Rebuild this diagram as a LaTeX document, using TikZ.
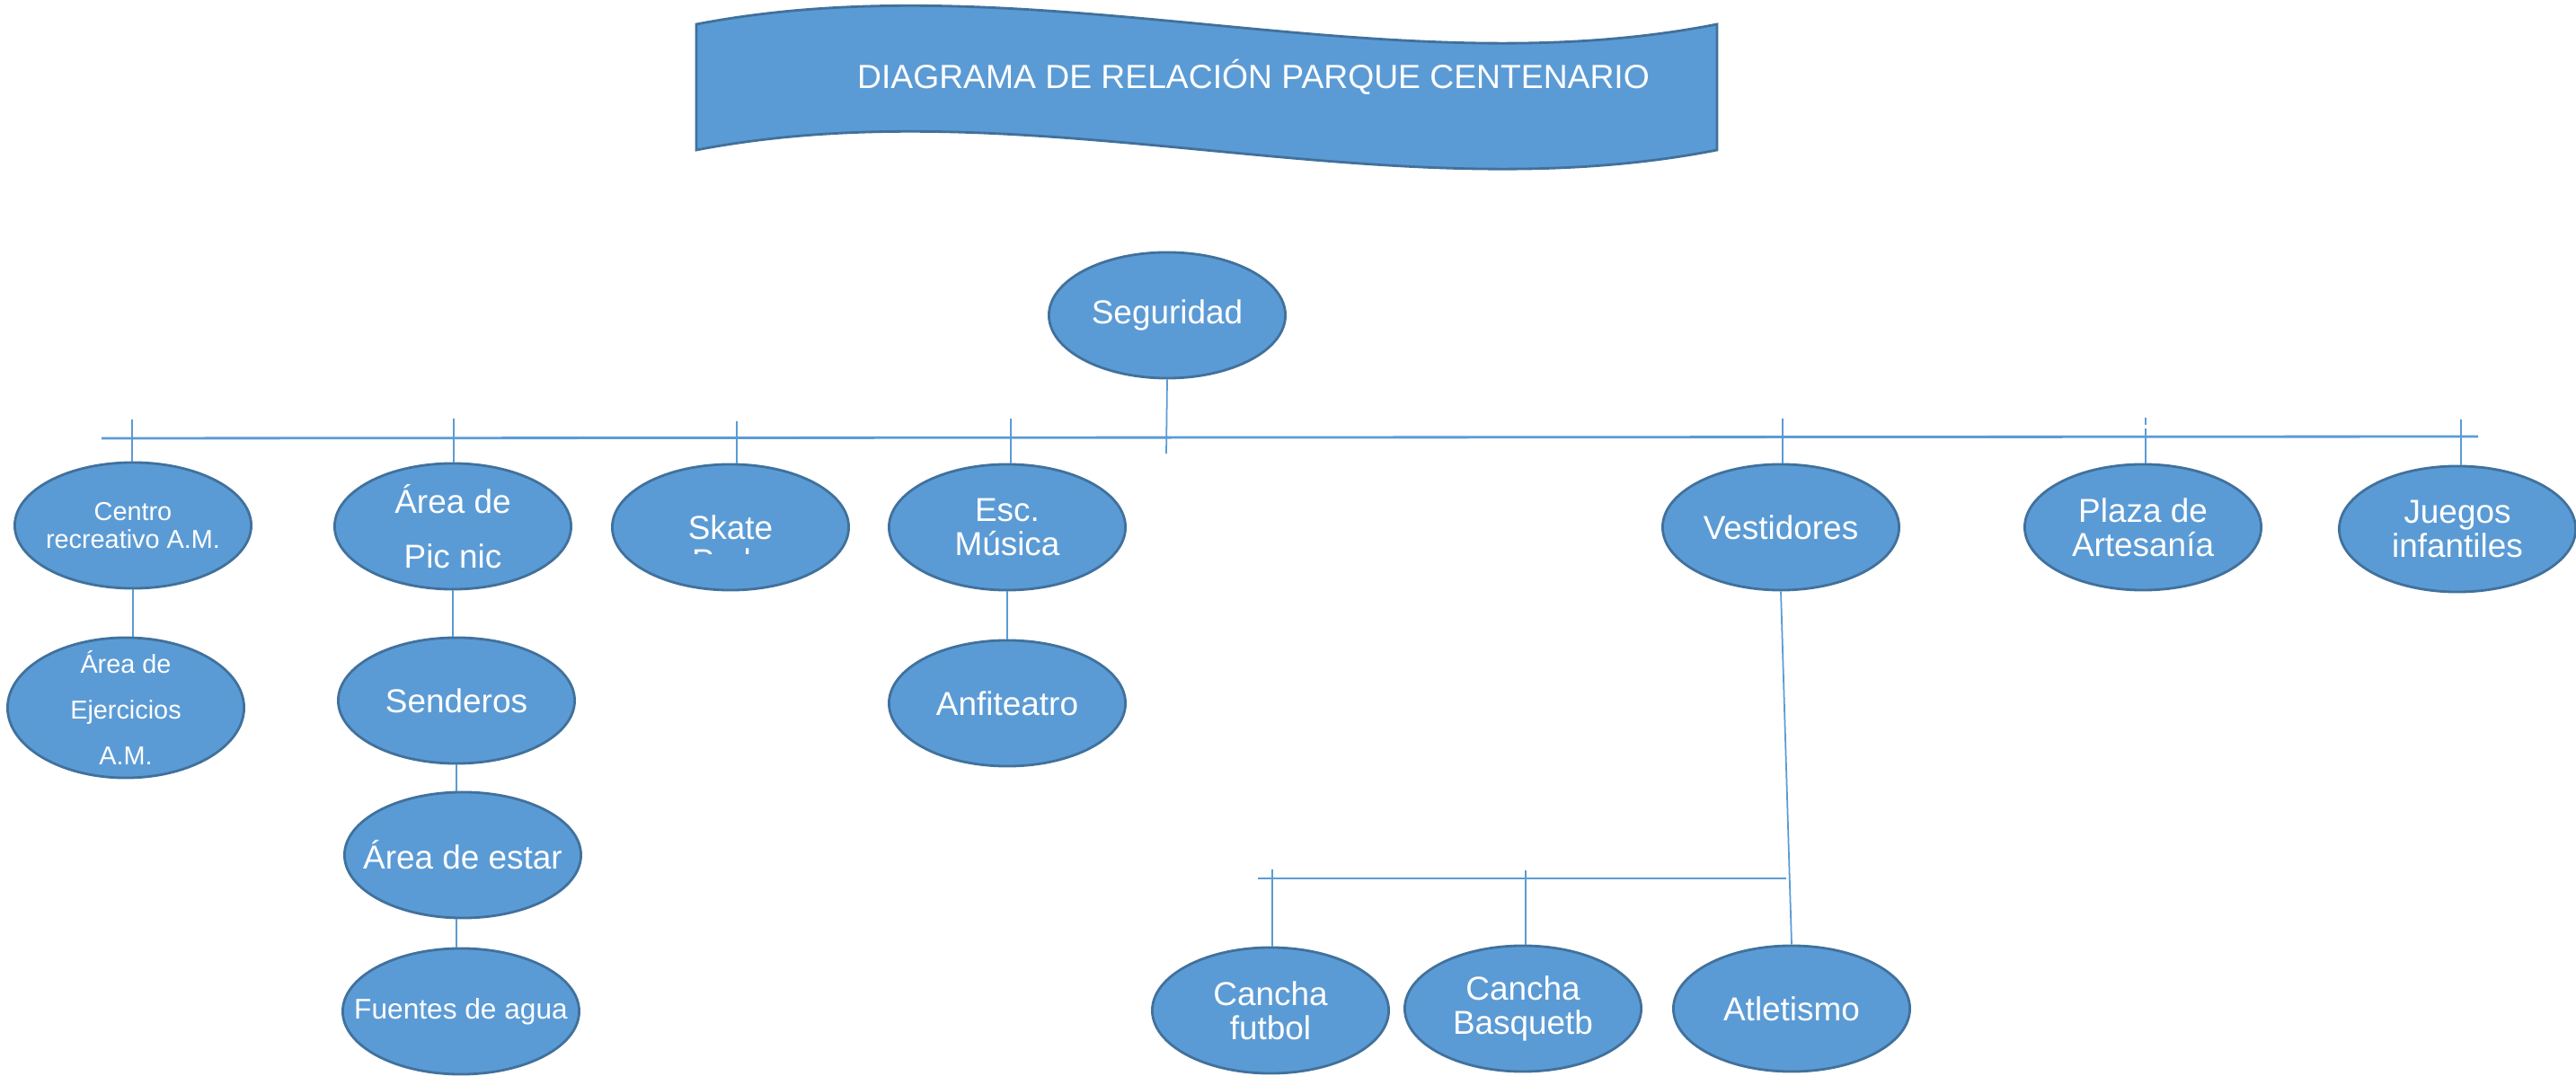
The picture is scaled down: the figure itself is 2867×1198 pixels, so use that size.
\documentclass[tikz,border=0pt]{standalone}
\usepackage{fontspec}
\setmainfont{Liberation Sans}
\usepackage{xcolor}
\usepackage{tikz}
\usetikzlibrary{calc,shapes.geometric}

\definecolor{azul}{RGB}{91,155,213}
\definecolor{azulborde}{RGB}{65,113,156}

\begin{document}
\begin{tikzpicture}[
    x=0.01cm,
    y=-0.01cm,
    zona/.style={ellipse,draw=azulborde,fill=azul,line width=0.8pt,
                 minimum width=2.63cm,minimum height=1.40cm,
                 inner xsep=-0.3cm,inner ysep=-0.2cm,
                 text=white,align=center,
                 font=\fontsize{10.5}{10.8}\selectfont},
    enlace/.style={draw=azul,line width=0.5pt},
    bus/.style={draw=azul,line width=0.8pt}
]

\useasboundingbox (0,0) rectangle (2867,1198);

\draw[draw=azulborde,fill=azul,line width=0.8pt]
(775,27)
.. controls (1150,-45) and (1540,100) ..
(1911,27) -- (1911,167)
.. controls (1540,240) and (1150,95) ..
(775,167) -- cycle;

\node[text=white,font=\fontsize{10.6}{12}\selectfont] (titulo) at (1395,86)
    {DIAGRAMA DE RELACIÓN PARQUE CENTENARIO};

\node[zona] (seguridad) at (1299,351) {Seguridad};

\node[zona,font=\fontsize{8.2}{8.8}\selectfont] (centro) at (148,585) {Centro\\recreativo A.M.};
\node[zona,font=\fontsize{10.5}{17.4}\selectfont] (picnic) at (504,586) {Área de\\Pic nic};
\node[zona] (skate) at (813,587) {Skate};
\node[zona] (musica) at (1121,587) {Esc.\\Música};
\node[zona] (vestidores) at (1982,587) {Vestidores};
\node[zona] (plaza) at (2385,587) {Plaza de\\Artesanía};
\node[zona] (juegos) at (2735,589) {Juegos\\infantiles};

\node[zona,minimum height=1.56cm,font=\fontsize{8.2}{14.5}\selectfont] (ejercicios) at (140,788)
    {Área de\\Ejercicios\\A.M.};
\node[zona] (senderos) at (508,780) {Senderos};
\node[zona] (anfiteatro) at (1121,783) {Anfiteatro};
\node[zona] (estar) at (515,952) {Área de estar};
\node[zona,font=\fontsize{9}{10}\selectfont] (fuentes) at (513,1126) {Fuentes de agua};

\node[zona] (futbol) at (1414,1125) {Cancha\\futbol};
\node[zona] (basquet) at (1695,1123) {Cancha\\Basquetb};
\node[zona] (atletismo) at (1994,1123) {Atletismo};

\begin{scope}
\clip (700,609) rectangle (930,617);
\node[text=white,font=\fontsize{10.5}{10.8}\selectfont,anchor=base] (skatePark) at (808,638) {Park};
\end{scope}

\coordinate (segPie) at (1298,505);
\coordinate (busIzq) at (113,488);
\coordinate (busDer) at (2758,486);
\coordinate (tCentro) at (147,467);
\coordinate (tPicnic) at (505,466);
\coordinate (tSkate) at (820,469);
\coordinate (tMusica) at (1125,466);
\coordinate (tVestidores) at (1984,466);
\coordinate (tPlaza) at (2388,465);
\coordinate (tPlazaB) at (2388,477);
\coordinate (tJuegos) at (2739,467);

\draw[enlace] (seguridad.south) -- (segPie);
\draw[bus] (busIzq) -- (busDer);

\draw[enlace] (tCentro) -- (tCentro |- centro.north);
\draw[enlace] (tPicnic) -- (tPicnic |- picnic.north);
\draw[enlace] (tSkate) -- (tSkate |- skate.north);
\draw[enlace] (tMusica) -- (tMusica |- musica.north);
\draw[enlace] (tVestidores) -- (tVestidores |- vestidores.north);
\draw[enlace] (tPlaza) -- ++(0,8);
\draw[enlace] (tPlazaB) -- (tPlazaB |- plaza.north);
\draw[enlace] (tJuegos) -- (tJuegos |- juegos.north);

\draw[enlace] (centro.south) -- (centro.south |- ejercicios.north);
\draw[enlace] (picnic.south) -- (picnic.south |- senderos.north);
\draw[enlace] (senderos.south) -- (senderos.south |- estar.north);
\draw[enlace] (senderos.south |- estar.south) -- (senderos.south |- fuentes.north);
\draw[enlace] (musica.south) -- (musica.south |- anfiteatro.north);

\coordinate (subIzq) at (1400,978);
\coordinate (subDer) at (1988,978);
\coordinate (tFutbol) at (1416,968);
\coordinate (tBasquet) at (1698,969);

\draw[enlace] (vestidores.south) -- (atletismo.north);
\draw[enlace] (subIzq) -- (subDer);
\draw[enlace] (tFutbol) -- (tFutbol |- futbol.north);
\draw[enlace] (tBasquet) -- (tBasquet |- basquet.north);

\end{tikzpicture}
\end{document}
